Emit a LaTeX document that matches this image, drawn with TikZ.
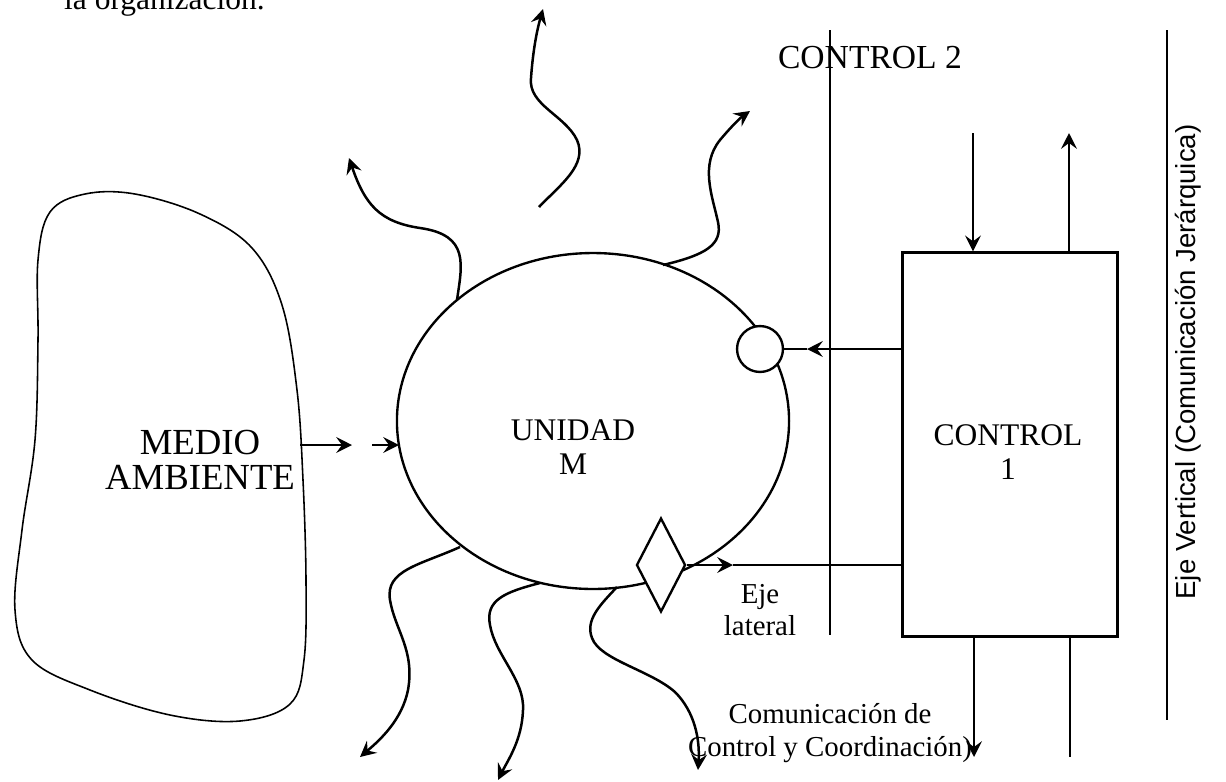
\documentclass[tikz,border=0pt]{standalone}
\usepackage{fontspec}
\setmainfont{Liberation Serif}
\newfontfamily\sansfont{Liberation Sans}
\usetikzlibrary{arrows.meta,shapes.geometric}
\tikzset{
  arr/.style={-{Stealth[length=6pt,width=6pt,inset=2.2pt]}},
  wavy/.style={line width=0.95pt,arr},
  lbl/.style={inner sep=0pt,align=center,font=\fontsize{12}{13}\selectfont},
  small/.style={inner sep=0pt,align=center,font=\fontsize{11}{12.5}\selectfont},
}
\begin{document}
\begin{tikzpicture}[x=0.381pt,y=-0.381pt,line width=0.9pt]
  \useasboundingbox (0,0) rectangle (1226,781);
  % text cut at the top
  \node[lbl,anchor=base west] (caption) at (63,9) {la organización.};
  % medio ambiente
  \draw[line width=0.6pt] plot[smooth cycle,tension=0.6] coordinates {
    (38,260) (50,212) (85,194) (135,194) (200,214) (252,248) (282,305)
    (297,390) (303,480) (306,580) (304,660) (290,704) (240,721) (170,715)
    (90,690) (32,660) (15,610) (22,530) (35,440) (38,340)};
  \node[lbl,font=\fontsize{14}{13.5}\selectfont] (env) at (200,460) {MEDIO\\AMBIENTE};
  % unidad
  \node[draw,ellipse,minimum width=149.4pt,minimum height=128pt,inner sep=0pt] (unit) at (593,421) {};
  \node[lbl] (unitTxt) at (573,447) {UNIDAD\\M};
  \node[draw,circle,fill=white,minimum size=17.5pt,inner sep=0pt] (sensor) at (760,349) {};
  \node[draw,diamond,fill=white,minimum width=18.7pt,minimum height=35.8pt,inner sep=0pt] (valve) at (661,565) {};
  % entradas
  \coordinate (envR) at (300,445);
  \coordinate (envA) at (352,445);
  \coordinate (unitIn) at (372,445);
  \coordinate (unitL) at (399,445);
  \draw[arr] (envR) -- (envA);
  \draw[arr] (unitIn) -- (unitL);
  % salidas
  \draw[wavy] (457,300) .. controls (462,265) and (470,235) .. (420,228)
    .. controls (380,222) and (365,205) .. (349,158);
  \draw[wavy] (539,207) .. controls (560,185) and (588,165) .. (577,140)
    .. controls (565,115) and (528,105) .. (531,78)
    .. controls (533,50) and (537,30) .. (543,9);
  \draw[wavy] (663,265) .. controls (705,255) and (723,245) .. (718,222)
    .. controls (712,195) and (700,165) .. (720,140)
    .. controls (730,128) and (740,118) .. (750,111);
  \draw[wavy] (460,547) .. controls (420,565) and (385,570) .. (390,600)
    .. controls (395,630) and (415,650) .. (408,690)
    .. controls (402,720) and (380,740) .. (360,757);
  \draw[wavy] (540,583) .. controls (505,592) and (485,600) .. (490,625)
    .. controls (495,655) and (525,680) .. (523,710)
    .. controls (522,740) and (508,760) .. (498,780);
  \draw[wavy] (617,587) .. controls (600,605) and (585,620) .. (592,638)
    .. controls (600,660) and (650,670) .. (675,692)
    .. controls (695,712) and (700,740) .. (698,770);
  % control 1
  \node[draw,minimum width=81.9pt,minimum height=146.3pt,inner sep=0pt] (ctrl) at (1010,444.5) {};
  \node[lbl] (ctrlTxt) at (1008,452) {CONTROL\\1};
  \coordinate (sensA) at (807,349);
  \draw[arr] (ctrl.west |- sensor.east) -- (sensA);
  \draw (sensA) -- (sensor.east);
  \coordinate (latA) at (733,565);
  \draw[arr] (valve.east) -- (latA);
  \draw (latA) -- (latA -| ctrl.west);
  % eje vertical
  \coordinate (topIn) at (973,133);
  \coordinate (topOut) at (1069,133);
  \coordinate (botOut) at (974,757);
  \coordinate (botIn) at (1070,757);
  \draw[arr] (topIn) -- (topIn |- ctrl.north);
  \draw[arr] (topOut |- ctrl.north) -- (topOut);
  \draw[arr] (botOut |- ctrl.south) -- (botOut);
  \draw (botIn |- ctrl.south) -- (botIn);
  % limites
  \draw (830,30) -- (830,635);
  \draw (1167,30) -- (1167,720);
  \node[lbl,font=\fontsize{12.8}{13}\selectfont] (ctrlTwo) at (870,58) {CONTROL 2};
  \node[small] (lat) at (760,610) {Eje\\lateral};
  \node[small] (coord) at (830,733) {Comunicación de\\Control y Coordinación)};
  \node[rotate=90,inner sep=0pt,font=\sansfont\fontsize{10.5}{12}\selectfont] (vert) at (1188,362) {Eje Vertical (Comunicación Jerárquica)};
\end{tikzpicture}
\end{document}
